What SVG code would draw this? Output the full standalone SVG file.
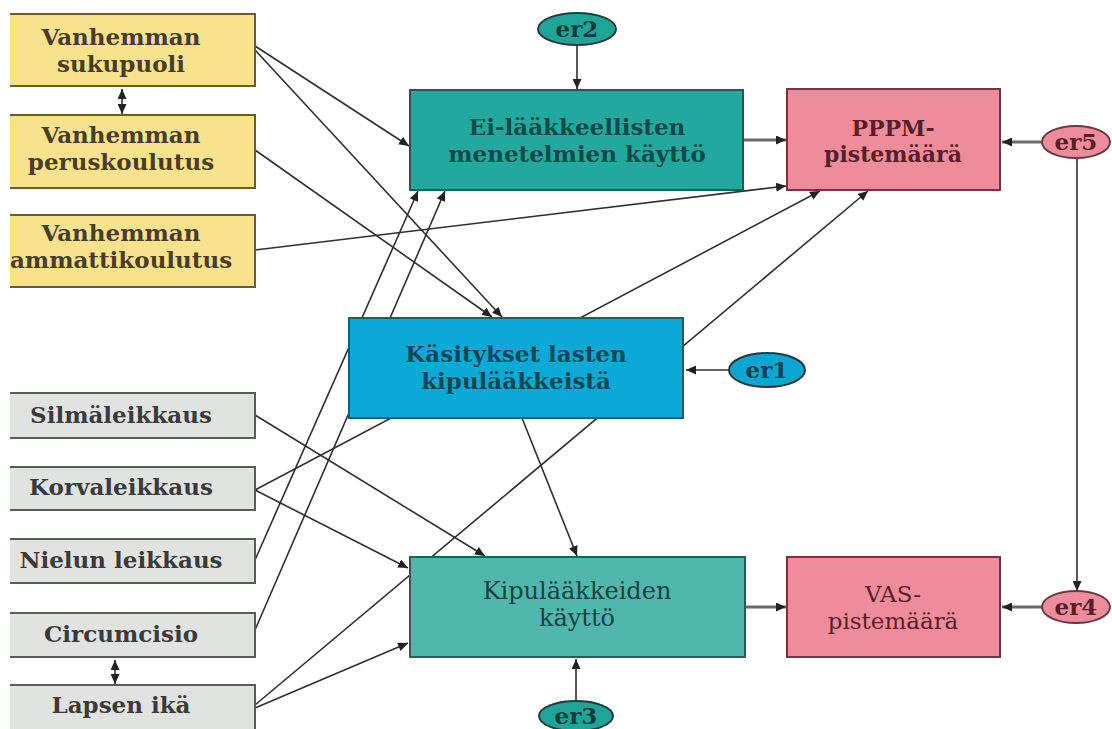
<svg xmlns="http://www.w3.org/2000/svg" width="1112" height="729" viewBox="0 0 1112 729">
<style>
  text { font-family: "DejaVu Serif", "Liberation Serif", serif; text-anchor: middle; font-weight: bold; }
  .yel rect { fill: #F8E38C; stroke: #6b5a3a; stroke-width: 2; }
  .yel text { fill: #4a3c26; font-size: 23px; }
  .gry rect { fill: #E1E3E1; stroke: #5a5a5a; stroke-width: 2; }
  .gry text { fill: #3a3a3a; font-size: 23px; }
  .teal rect { fill: #22A89E; stroke: #1d5a56; stroke-width: 2; }
  .teal text { fill: #0d4a47; font-size: 23px; }
  .teal2 rect { fill: #50B7AD; stroke: #2a5c57; stroke-width: 2; }
  .teal2 text { fill: #16443f; font-size: 24px; font-weight: normal; }
  .blue rect { fill: #0BA9D5; stroke: #1a5c70; stroke-width: 2; }
  .blue text { fill: #0c4657; font-size: 23px; }
  .pink rect { fill: #EE8C9C; stroke: #6a3a44; stroke-width: 2; }
  .pink text { fill: #5a1e2a; font-size: 22px; }
  .pink.light text { font-weight: normal; font-size: 23px; }
  .err ellipse { stroke: #2a3a3a; stroke-width: 2; }
  .err text { font-size: 23px; }
  .e-teal ellipse { fill: #1FA597; }
  .e-teal text { fill: #0d3d3a; }
  .e-blue ellipse { fill: #0BA6D2; }
  .e-blue text { fill: #0c3f50; }
  .e-pink ellipse { fill: #EE8C9C; stroke: #6a3a44; }
  .e-pink text { fill: #5a1e2a; }
  .conn line { stroke: #2f2f2f; stroke-width: 1.6; fill: none; marker-end: url(#ah); }
  .conn line.thick { stroke: #6a6a6a; stroke-width: 3; }
  .conn line.dbl { marker-start: url(#ahs); }
</style>
<defs>
  <marker id="ah" markerUnits="userSpaceOnUse" markerWidth="11" markerHeight="9" refX="10" refY="4.5" orient="auto">
    <path d="M0,0 L10,4.5 L0,9 z" fill="#222"/>
  </marker>
  <marker id="ahs" markerUnits="userSpaceOnUse" markerWidth="11" markerHeight="9" refX="10" refY="4.5" orient="auto-start-reverse">
    <path d="M0,0 L10,4.5 L0,9 z" fill="#222"/>
  </marker>
  <clipPath id="leftclip"><rect x="10" y="0" width="1102" height="729"/></clipPath>
</defs>
<rect x="0" y="0" width="1112" height="729" fill="#ffffff"/>

<g id="connectors" class="conn">
  <line x1="255" y1="46" x2="409" y2="146"/>
  <line x1="255" y1="50" x2="502" y2="317"/>
  <line x1="255" y1="150" x2="492" y2="317"/>
  <line x1="255" y1="250" x2="786" y2="186"/>
  <line x1="255" y1="415" x2="485" y2="556"/>
  <line x1="255" y1="490" x2="820" y2="191"/>
  <line x1="255" y1="490" x2="408" y2="568"/>
  <line x1="255" y1="560" x2="418" y2="191"/>
  <line x1="255" y1="630" x2="445" y2="191"/>
  <line x1="255" y1="705" x2="868" y2="191"/>
  <line x1="255" y1="708" x2="408" y2="643"/>
  <line x1="522" y1="418" x2="577" y2="556"/>
  <line x1="729" y1="370" x2="686" y2="370"/>
  <line x1="577" y1="45" x2="577" y2="89"/>
  <line x1="576" y1="700" x2="576" y2="659"/>
  <line class="thick" x1="744" y1="140" x2="786" y2="140"/>
  <line class="thick" x1="1042" y1="142" x2="1002" y2="142"/>
  <line class="thick" x1="746" y1="607" x2="786" y2="607"/>
  <line class="thick" x1="1043" y1="607" x2="1002" y2="607"/>
  <line x1="1077" y1="158" x2="1077" y2="591"/>
  <line class="dbl" x1="122" y1="89" x2="122" y2="114"/>
  <line class="dbl" x1="115" y1="660" x2="115" y2="684"/>
</g>

<g clip-path="url(#leftclip)">
  <g id="n-sukupuoli" class="yel">
    <rect x="-20" y="14" width="275" height="72"/>
    <text x="121" y="45">Vanhemman</text>
    <text x="121" y="72">sukupuoli</text>
  </g>
  <g id="n-peruskoulutus" class="yel">
    <rect x="-20" y="115" width="275" height="73"/>
    <text x="121" y="143">Vanhemman</text>
    <text x="121" y="170">peruskoulutus</text>
  </g>
  <g id="n-ammattikoulutus" class="yel">
    <rect x="-20" y="215" width="275" height="72"/>
    <text x="121" y="241">Vanhemman</text>
    <text x="121" y="268">ammattikoulutus</text>
  </g>
  <g id="n-silma" class="gry">
    <rect x="-20" y="393" width="275" height="45"/>
    <text x="121" y="423">Silmäleikkaus</text>
  </g>
  <g id="n-korva" class="gry">
    <rect x="-20" y="467" width="275" height="43"/>
    <text x="121" y="495">Korvaleikkaus</text>
  </g>
  <g id="n-nielu" class="gry">
    <rect x="-20" y="539" width="275" height="44"/>
    <text x="121" y="568">Nielun leikkaus</text>
  </g>
  <g id="n-circum" class="gry">
    <rect x="-20" y="613" width="275" height="44"/>
    <text x="121" y="642">Circumcisio</text>
  </g>
  <g id="n-lapsen" class="gry">
    <rect x="-20" y="685" width="275" height="50"/>
    <text x="121" y="713">Lapsen ikä</text>
  </g>
</g>

<g id="n-eilaak" class="teal">
  <rect x="410" y="90" width="333" height="100"/>
  <text x="577" y="135">Ei-lääkkeellisten</text>
  <text x="577" y="162">menetelmien käyttö</text>
</g>
<g id="n-pppm" class="pink">
  <rect x="787" y="89" width="213" height="101"/>
  <text x="893" y="136">PPPM-</text>
  <text x="893" y="162">pistemäärä</text>
</g>
<g id="n-kasitykset" class="blue">
  <rect x="349" y="318" width="334" height="100"/>
  <text x="516" y="362">Käsitykset lasten</text>
  <text x="516" y="389">kipulääkkeistä</text>
</g>
<g id="n-kipu" class="teal2">
  <rect x="410" y="557" width="335" height="100"/>
  <text x="577" y="599">Kipulääkkeiden</text>
  <text x="577" y="626">käyttö</text>
</g>
<g id="n-vas" class="pink light">
  <rect x="787" y="557" width="213" height="100"/>
  <text x="893" y="602">VAS-</text>
  <text x="893" y="629">pistemäärä</text>
</g>

<g id="n-er2" class="err e-teal">
  <ellipse cx="577" cy="29" rx="39" ry="16"/>
  <text x="577" y="37">er2</text>
</g>
<g id="n-er1" class="err e-blue">
  <ellipse cx="767" cy="370" rx="38" ry="17"/>
  <text x="767" y="378">er1</text>
</g>
<g id="n-er3" class="err e-teal">
  <ellipse cx="576" cy="716" rx="37" ry="15"/>
  <text x="576" y="724">er3</text>
</g>
<g id="n-er5" class="err e-pink">
  <ellipse cx="1076" cy="142" rx="34" ry="16"/>
  <text x="1076" y="150">er5</text>
</g>
<g id="n-er4" class="err e-pink">
  <ellipse cx="1076" cy="607" rx="34" ry="16"/>
  <text x="1076" y="615">er4</text>
</g>
</svg>
